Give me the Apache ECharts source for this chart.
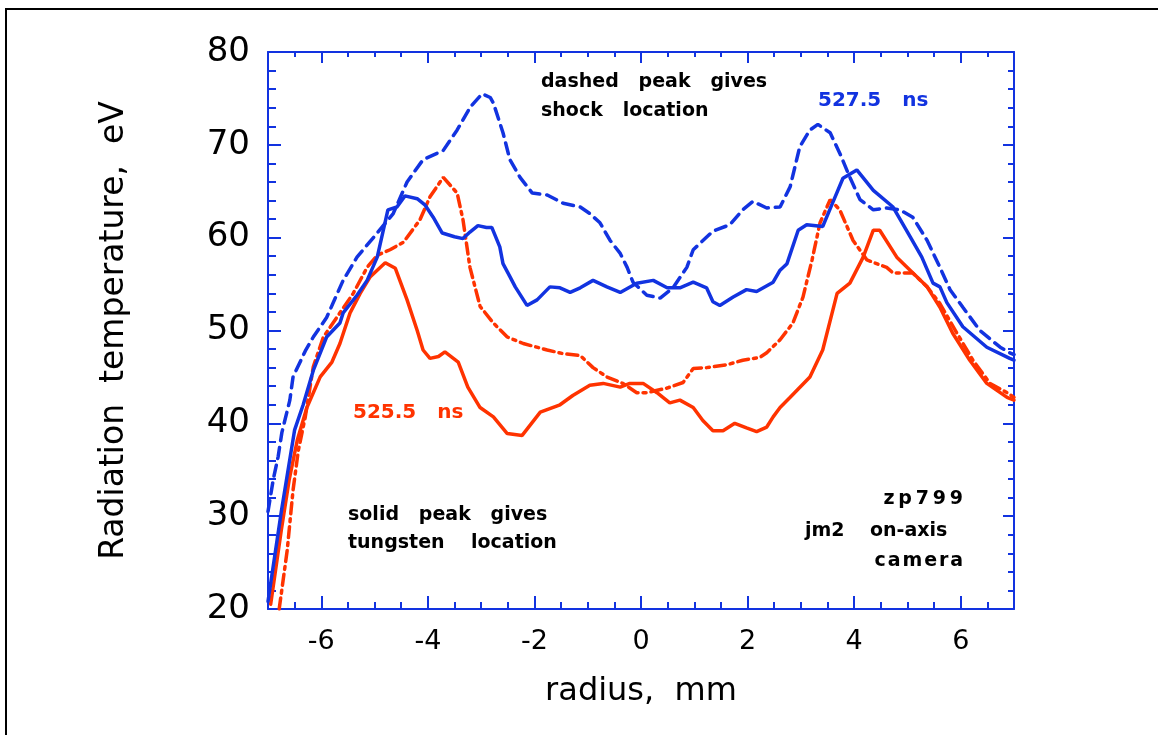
<!DOCTYPE html>
<html>
<head>
<meta charset="utf-8">
<script src="https://cdn.jsdelivr.net/npm/echarts@6/dist/echarts.min.js"></script>
<style>
  html, body { margin: 0; padding: 0; background: #fff; }
  #chart { width: 1158px; height: 735px; }
</style>
</head>
<body>
<div id="chart"></div>
<script>
// Radiation temperature profiles across the radius, zp799 jm2 on-axis camera.
// Each series: [radius (mm), radiation temperature (eV)].
const solid527 = [[-7.0,20.8],[-6.75,30.5],[-6.5,39.3],[-6.34,42.0],[-6.15,45.7],[-5.9,49.3],[-5.65,50.8],[-5.59,51.9],[-5.33,53.8],[-5.14,55.4],[-4.95,57.9],[-4.75,63.0],[-4.58,63.3],[-4.43,64.5],[-4.2,64.2],[-4.05,63.5],[-3.9,62.2],[-3.73,60.5],[-3.5,60.1],[-3.34,59.9],[-3.21,60.6],[-3.06,61.3],[-2.9,61.1],[-2.8,61.1],[-2.65,59.0],[-2.59,57.2],[-2.46,55.8],[-2.36,54.7],[-2.14,52.7],[-1.95,53.3],[-1.71,54.7],[-1.52,54.6],[-1.33,54.1],[-1.14,54.6],[-0.9,55.4],[-0.64,54.7],[-0.39,54.1],[-0.08,55.1],[0.23,55.4],[0.49,54.6],[0.73,54.6],[0.98,55.2],[1.23,54.6],[1.35,53.1],[1.48,52.7],[1.73,53.6],[1.98,54.4],[2.17,54.2],[2.48,55.2],[2.61,56.5],[2.74,57.2],[2.95,60.8],[3.11,61.4],[3.41,61.2],[3.6,63.8],[3.79,66.4],[4.05,67.3],[4.36,65.1],[4.73,63.3],[5.05,60.1],[5.27,57.9],[5.48,55.1],[5.61,54.7],[5.74,53.0],[6.04,50.4],[6.49,48.2],[6.92,47.0],[7.0,46.8]];
const dashed527 = [[-7.0,30.5],[-6.9,34.0],[-6.81,36.4],[-6.74,39.0],[-6.59,42.5],[-6.53,45.0],[-6.3,47.8],[-6.15,49.3],[-5.9,51.4],[-5.59,55.4],[-5.33,57.9],[-4.95,60.5],[-4.65,62.6],[-4.39,66.0],[-4.09,68.4],[-3.71,69.4],[-3.45,71.6],[-3.2,74.1],[-2.98,75.5],[-2.83,75.1],[-2.77,74.5],[-2.59,71.3],[-2.46,68.4],[-2.27,66.5],[-2.04,64.8],[-1.76,64.6],[-1.46,63.7],[-1.14,63.3],[-0.96,62.6],[-0.77,61.6],[-0.58,59.7],[-0.39,58.3],[-0.26,56.8],[-0.15,55.2],[0.11,53.8],[0.36,53.5],[0.6,54.6],[0.86,56.8],[0.98,58.7],[1.35,60.7],[1.67,61.4],[1.91,63.0],[2.1,63.9],[2.36,63.2],[2.61,63.3],[2.8,65.5],[2.98,69.8],[3.17,71.6],[3.32,72.2],[3.55,71.3],[3.73,69.1],[3.92,66.5],[4.11,64.1],[4.36,63.0],[4.61,63.2],[4.86,63.0],[5.1,62.2],[5.37,59.7],[5.61,56.8],[5.8,54.4],[6.04,52.5],[6.36,50.0],[6.74,48.2],[6.92,47.6],[7.0,47.4]];
const solid525 = [[-6.95,20.5],[-6.75,28.5],[-6.6,34.0],[-6.45,38.2],[-6.27,41.7],[-6.02,45.0],[-5.8,46.6],[-5.65,48.6],[-5.46,51.9],[-5.27,54.0],[-5.08,55.8],[-4.8,57.3],[-4.61,56.7],[-4.39,53.3],[-4.2,50.0],[-4.09,47.9],[-3.96,47.0],[-3.8,47.2],[-3.68,47.7],[-3.43,46.6],[-3.25,43.9],[-3.02,41.7],[-2.77,40.7],[-2.51,38.9],[-2.23,38.7],[-1.89,41.2],[-1.52,42.0],[-1.28,43.0],[-0.96,44.1],[-0.71,44.3],[-0.39,43.9],[-0.21,44.3],[0.04,44.3],[0.3,43.3],[0.54,42.2],[0.73,42.5],[0.98,41.7],[1.16,40.3],[1.35,39.2],[1.54,39.2],[1.76,40.0],[1.98,39.5],[2.17,39.1],[2.36,39.6],[2.48,40.7],[2.61,41.7],[2.8,42.8],[3.17,45.0],[3.41,47.9],[3.68,54.0],[3.92,55.1],[4.17,57.9],[4.36,60.8],[4.48,60.8],[4.8,57.9],[5.05,56.5],[5.37,54.7],[5.61,52.5],[5.85,49.7],[6.17,46.8],[6.49,44.3],[6.87,42.8],[7.0,42.5]];
const dashed525 = [[-6.79,20.0],[-6.64,26.3],[-6.53,32.8],[-6.43,37.1],[-6.3,40.7],[-6.15,46.1],[-5.96,49.3],[-5.65,51.9],[-5.4,54.0],[-5.14,56.8],[-4.95,58.1],[-4.71,58.7],[-4.46,59.5],[-4.15,61.9],[-3.96,64.4],[-3.71,66.5],[-3.45,64.8],[-3.34,61.9],[-3.21,56.8],[-3.02,52.6],[-2.77,50.8],[-2.51,49.3],[-2.21,48.6],[-1.76,47.9],[-1.46,47.5],[-1.14,47.3],[-0.9,46.0],[-0.64,45.0],[-0.34,44.3],[-0.08,43.3],[0.11,43.3],[0.49,43.8],[0.79,44.4],[0.98,45.9],[1.23,46.0],[1.61,46.3],[1.91,46.8],[2.23,47.1],[2.36,47.6],[2.61,49.0],[2.85,50.8],[3.04,53.6],[3.21,57.6],[3.36,61.6],[3.55,64.1],[3.73,63.0],[3.98,59.7],[4.24,57.6],[4.61,56.8],[4.73,56.2],[5.1,56.2],[5.37,54.7],[5.61,52.9],[5.93,49.7],[6.23,46.8],[6.55,44.3],[6.87,43.3],[7.0,42.8]];

// Axis ranges and labelled ticks
const xRange = [-7, 7];
const xLabelTicks = [-6, -4, -2, 0, 2, 4, 6];
const yRange = [20, 80];
const yTickStep = 10;

const BLUE = '#1233e0';
const RED = '#ff3300';
const FONT = '"DejaVu Sans", sans-serif';
const axisLineStyle = { color: BLUE, width: 2 };

function majorX(position, withLabels) {
  return {
    type: 'value', gridIndex: 0, position: position,
    min: xRange[0], max: xRange[1],
    axisLine: { show: true, onZero: false, lineStyle: axisLineStyle },
    axisTick: { show: true, inside: true, length: position === 'bottom' ? 13 : 11,
                customValues: xLabelTicks, lineStyle: { color: BLUE, width: 2 } },
    axisLabel: withLabels ? { show: true, customValues: xLabelTicks, color: '#000',
                fontFamily: FONT, fontSize: 27, margin: 19 } : { show: false },
    splitLine: { show: false },
    name: withLabels ? 'radius,  mm' : '',
    nameLocation: 'middle', nameGap: 67,
    nameTextStyle: { color: '#000', fontFamily: FONT, fontSize: 32 }
  };
}
function minorX(position) {
  return {
    type: 'value', gridIndex: 0, position: position,
    min: xRange[0], max: xRange[1], interval: 0.5,
    axisLine: { show: false, onZero: false },
    axisTick: { show: true, inside: true, length: position === 'bottom' ? 7 : 5,
                lineStyle: { color: BLUE, width: 2 } },
    axisLabel: { show: false },
    splitLine: { show: false }
  };
}
function yAx(position, withLabels) {
  return {
    type: 'value', gridIndex: 0, position: position,
    min: yRange[0], max: yRange[1], interval: yTickStep,
    axisLine: { show: true, onZero: false, lineStyle: axisLineStyle },
    axisTick: { show: true, inside: true, length: withLabels ? 13 : 11, lineStyle: { color: BLUE, width: 2 } },
    minorTick: { show: true, splitNumber: 5, length: withLabels ? 8 : 6, lineStyle: { color: BLUE, width: 2 } },
    axisLabel: withLabels ? { show: true, color: '#000', fontFamily: FONT, fontSize: 34, margin: 18 } : { show: false },
    splitLine: { show: false },
    name: withLabels ? 'Radiation  temperature,  eV' : '',
    nameLocation: 'middle', nameGap: 137,
    nameTextStyle: { color: '#000', fontFamily: FONT, fontSize: 33 }
  };
}

function lineSeries(data, color, type) {
  return {
    type: 'line', xAxisIndex: 0, yAxisIndex: 0, data: data,
    showSymbol: false, symbol: 'none', smooth: false, silent: true,
    lineStyle: { color: color, width: 3.5, type: type, cap: 'round' }
  };
}

function label(text, x, y, color, align, size) {
  return {
    type: 'text', x: x, y: y, silent: true,
    style: { text: text, fill: color, font: 'bold ' + (size || 19) + 'px ' + FONT,
             align: align || 'left', verticalAlign: 'middle' }
  };
}

const chart = echarts.init(document.getElementById('chart'), null, { renderer: 'canvas' });
chart.setOption({
  animation: false,
  backgroundColor: '#fff',
  grid: { left: 268, top: 52, width: 746, height: 557 },
  xAxis: [majorX('bottom', true), minorX('bottom'), majorX('top', false), minorX('top')],
  yAxis: [yAx('left', true), yAx('right', false)],
  series: [
    lineSeries(dashed525, RED, [11, 5, 3, 5]),
    lineSeries(solid525, RED, 'solid'),
    lineSeries(dashed527, BLUE, [11, 7]),
    lineSeries(solid527, BLUE, 'solid')
  ],
  graphic: [
    { type: 'rect', silent: true, shape: { x: 6, y: 9, width: 1400, height: 1000 },
      style: { fill: 'none', stroke: '#000', lineWidth: 2 } },
    label('dashed   peak   gives', 541, 82, '#000'),
    label('shock   location', 541, 111, '#000'),
    label('527.5   ns', 818, 101, BLUE, 'left', 20),
    label('525.5   ns', 353, 413, RED, 'left', 20),
    label('solid   peak   gives', 348, 515, '#000'),
    label('tungsten    location', 348, 543, '#000'),
    label('z\u2009p\u20097\u20099\u20099', 963, 499, '#000', 'right'),
    label('jm2', 805, 531, '#000'),
    label('on-axis', 870, 531, '#000'),
    label('c\u200Aa\u200Am\u200Ae\u200Ar\u200Aa', 963, 561, '#000', 'right')
  ]
});
</script>
</body>
</html>
